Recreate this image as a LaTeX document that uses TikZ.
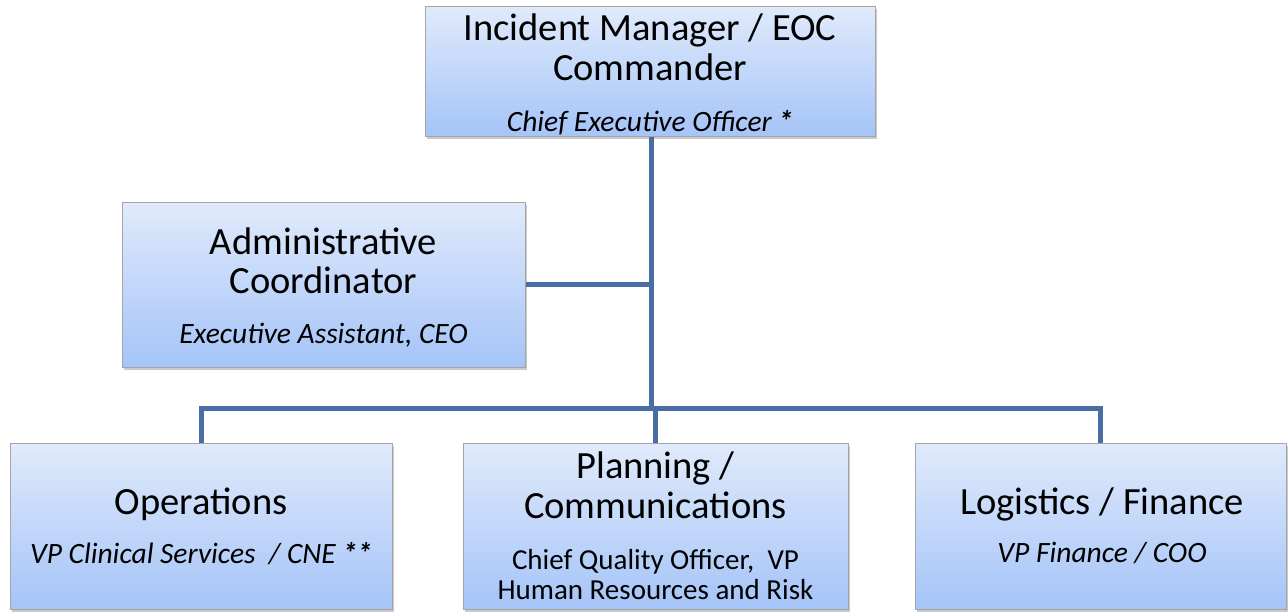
\documentclass[tikz,border=0pt]{standalone}
\usepackage{fontspec}
\setmainfont{Carlito}
\usetikzlibrary{shadows}
\pgfdeclarelayer{background}
\pgfsetlayers{background,main}
\definecolor{boxtop}{RGB}{224,234,251}
\definecolor{boxbot}{RGB}{165,196,248}
\definecolor{boxline}{RGB}{165,165,165}
\definecolor{linkblue}{RGB}{72,110,163}
\tikzset{
  card/.style={draw=boxline, line width=1pt, top color=boxtop, bottom color=boxbot,
    inner sep=0pt,
    drop shadow={shadow xshift=2pt, shadow yshift=-3pt, opacity=0.35, fill=black!60}},
  head/.style={anchor=base, inner sep=0pt, font=\fontsize{38.5}{42}\selectfont},
  role/.style={anchor=base, inner sep=0pt, font=\fontsize{29.5}{32}\selectfont\itshape},
  plainrole/.style={anchor=base, inner sep=0pt, font=\fontsize{29}{32}\selectfont},
  link/.style={draw=linkblue, line width=5pt, line join=miter}
}
\begin{document}
\begin{tikzpicture}[x=1pt, y=-1pt]
  \useasboundingbox (0,0) rectangle (1288,611);

  % boxes
  \node[card, minimum width=450pt, minimum height=130pt] (cmd) at (650,71) {};
  \node[card, minimum width=403pt, minimum height=165pt] (adm) at (323.5,284.5) {};
  \node[card, minimum width=382pt, minimum height=166pt] (ops) at (201,526) {};
  \node[card, minimum width=385pt, minimum height=166pt] (pln) at (655.5,526) {};
  \node[card, minimum width=371pt, minimum height=166pt] (lgf) at (1100.5,526) {};

  % connectors, kept behind the boxes
  \coordinate (bus) at (651,408);
  \begin{pgfonlayer}{background}
    \path[link] (cmd.south -| bus) -- (bus);
    \path[link] (adm.east) -- (adm.east -| bus);
    \path[link] (ops.north) -- (ops.north |- bus) -- (lgf.north |- bus) -- (lgf.north);
    \path[link] (pln.north |- bus) -- (pln.north);
  \end{pgfonlayer}

  % texts
  \node[head] (cmd1) at (650,40) {Incident Manager / EOC};
  \node[head] (cmd2) at (650,80) {Commander};
  \node[role] (cmd3) at (650,131) {Chief Executive Officer \textbf{*}};

  \node[head] (adm1) at (323.5,254) {Administrative};
  \node[head] (adm2) at (323.5,293) {Coordinator};
  \node[role] (adm3) at (323.5,343) {Executive Assistant, CEO};

  \node[head] (ops1) at (201,514) {Operations};
  \node[role] (ops2) at (201,563) {VP Clinical Services \ / CNE \textbf{**}};

  \node[head] (pln1) at (655.5,478) {Planning /};
  \node[head] (pln2) at (655.5,518) {Communications};
  \node[plainrole] (pln3) at (655.5,569) {Chief Quality Officer, \ VP};
  \node[plainrole] (pln4) at (655.5,599) {Human Resources and Risk};

  \node[head] (lgf1) at (1102,514) {Logistics / Finance};
  \node[role] (lgf2) at (1102,562) {VP Finance / COO};
\end{tikzpicture}
\end{document}
